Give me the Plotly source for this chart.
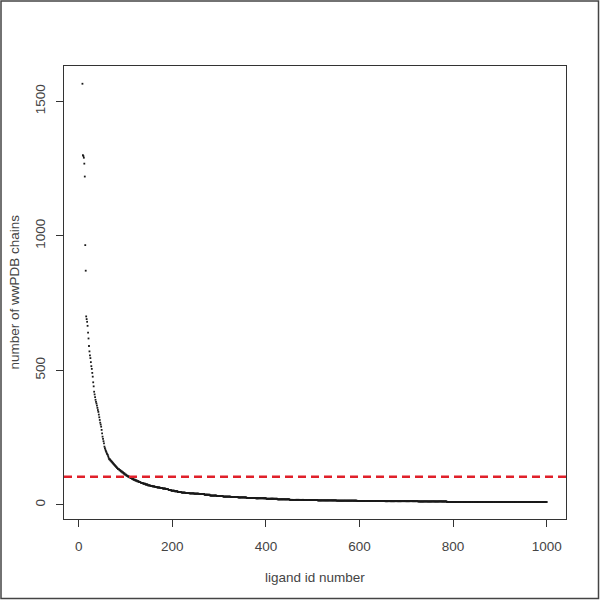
import plotly.graph_objects as go

# ---- data ----
# sparse head of the curve: values for consecutive ligand ids starting at 8
head_start = 8
head_values = [1565, 1300, 1296, 1290, 1268, 1220, 965, 870, 700, 690,
               680, 665, 640, 618, 590, 570, 555, 545, 530, 515,
               505, 490, 476, 455, 440, 420, 410, 400, 390, 382,
               376, 368, 360, 352, 345, 335, 325, 315, 305, 298,
               290, 278, 265, 253, 245, 236, 228, 216, 210, 205,
               200, 196, 191, 188, 185, 180, 175, 170]
# dense tail: runs of (value, number of consecutive ids)
tail_levels = [168, 164, 160, 156, 152, 148, 144, 140, 136, 132,
               128, 124, 120, 116, 112, 108, 105, 102, 99, 96,
               93, 90, 87, 84, 81, 78, 75, 72, 70, 68,
               66, 64, 62, 60, 58, 55, 52, 50, 47, 45,
               43, 42, 41, 40, 37, 34, 32, 30, 29, 27,
               25, 24, 22, 20, 18, 17, 16, 15, 14, 13,
               12, 10]
tail_counts = [2, 2, 2, 2, 2, 2, 2, 2, 2, 3,
               3, 3, 3, 3, 3, 3, 3, 3, 3, 3,
               4, 4, 4, 4, 5, 5, 5, 5, 5, 5,
               5, 6, 6, 6, 6, 6, 7, 7, 8, 8,
               9, 10, 10, 12, 12, 14, 14, 16, 16, 18,
               20, 22, 24, 26, 30, 30, 40, 44, 60, 70,
               62, 214]
threshold = 104

x_ticks = [0, 200, 400, 600, 800, 1000]
y_ticks = [0, 500, 1000, 1500]

# ---- build point lists ----
xs, ys = [], []
rank = head_start
for v in head_values:
    xs.append(rank)
    ys.append(v)
    rank += 1
for v, c in zip(tail_levels, tail_counts):
    for _ in range(c):
        xs.append(rank)
        ys.append(v)
        rank += 1

# ---- layout geometry (pixels) ----
W = H = 600
L, R, T, B = 64, 566, 66, 519
pw, ph = R - L, B - T

def px(xpix):
    return (xpix - L) / pw

def py(ypix):
    return (B - ypix) / ph

FONT = "Liberation Sans, Arial, sans-serif"
TXT = "#444444"
AX = "#333333"

fig = go.Figure()
fig.add_trace(go.Scatter(
    x=xs, y=ys, mode="markers",
    marker=dict(symbol="square", size=1.8, color="#1a1a1a", line=dict(width=0)),
    hoverinfo="x+y", showlegend=False,
))

fig.add_shape(type="line", xref="paper", yref="y", x0=0, x1=1,
              y0=threshold, y1=threshold,
              line=dict(color="#e0202a", width=2.5, dash="8px,5px"))

# outer figure border
fig.add_shape(type="rect", xref="paper", yref="paper",
              x0=px(1), x1=px(598.5), y0=py(598.5), y1=py(1),
              line=dict(color="#444444", width=1.5), fillcolor="rgba(0,0,0,0)")

fig.add_annotation(text="ligand id number", xref="paper", yref="paper",
                   x=0.5, y=py(577), xanchor="center", yanchor="middle",
                   showarrow=False, font=dict(family=FONT, size=13.5, color=TXT))
fig.add_annotation(text="number of wwPDB chains", xref="paper", yref="paper",
                   x=px(14), y=0.5, xanchor="center", yanchor="middle",
                   textangle=-90, showarrow=False,
                   font=dict(family=FONT, size=13.5, color=TXT))

fig.update_layout(
    width=W, height=H, autosize=False,
    margin=dict(l=L, r=W - R, t=T, b=H - B, pad=0),
    paper_bgcolor="white", plot_bgcolor="white",
    font=dict(family=FONT, size=13.5, color=TXT),
    showlegend=False,
)
fig.update_xaxes(
    range=[-31.4, 1041.2], tickvals=x_ticks, ticktext=[str(t) for t in x_ticks],
    showgrid=False, zeroline=False,
    showline=True, mirror=True, linecolor=AX, linewidth=1,
    ticks="outside", ticklen=7, tickwidth=1, tickcolor=AX,
    ticklabelstandoff=8,
    tickfont=dict(family=FONT, size=13.5, color=TXT),
)
fig.update_yaxes(
    range=[-53.2, 1631], tickvals=y_ticks, ticktext=[str(t) for t in y_ticks],
    showgrid=False, zeroline=False,
    showline=True, mirror=True, linecolor=AX, linewidth=1,
    ticks="outside", ticklen=7, tickwidth=1, tickcolor=AX,
    tickangle=-90, ticklabelstandoff=6,
    tickfont=dict(family=FONT, size=13.5, color=TXT),
)

fig.write_html(
    "out.html",
    config={"displayModeBar": False},
    post_script="document.body.style.margin='0';document.body.style.padding='0';",
)
